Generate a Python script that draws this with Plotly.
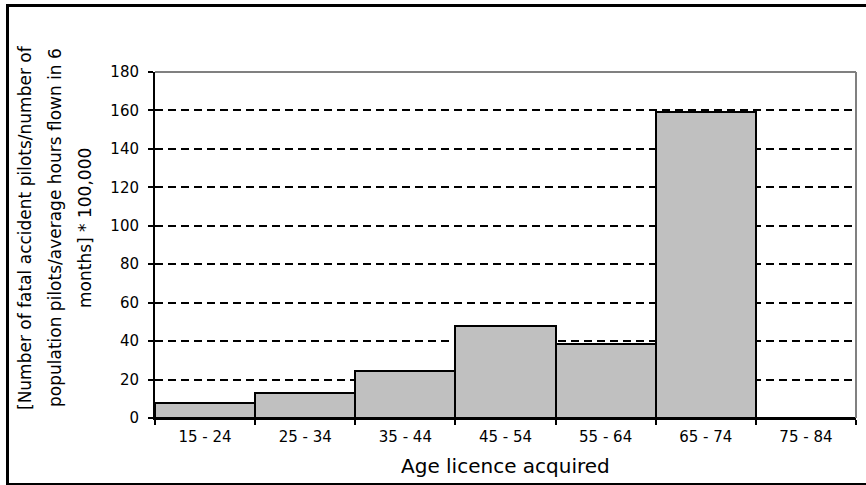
import plotly.graph_objects as go

categories = ["15 - 24", "25 - 34", "35 - 44", "45 - 54", "55 - 64", "65 - 74", "75 - 84"]
values = [8, 13, 24.5, 48, 38.3, 159, 0]
y_ticks = [0, 20, 40, 60, 80, 100, 120, 140, 160, 180]
y_title_lines = [
    "[Number of fatal accident pilots/number of",
    "population pilots/average hours flown in 6",
    "months] * 100,000",
]
x_title = "Age licence acquired"

W, H = 866, 485
ml, mr, mt, mb = 155, 10, 72, 67
pw, ph = W - ml - mr, H - mt - mb

def px(x):
    return (x - ml) / pw

def py(y):
    return (H - mb - y) / ph

fig = go.Figure()
fig.add_trace(go.Bar(
    x=categories, y=values, width=1,
    marker=dict(color="#C0C0C0", line=dict(color="black", width=2)),
))

font = "DejaVu Sans, Arial, sans-serif"
title_x = [25, 55, 85]
annotations = [
    dict(xref="paper", yref="paper", x=px(cx), y=py(228), textangle=-90,
         showarrow=False, xanchor="center", yanchor="middle",
         text=t, font=dict(size=17))
    for cx, t in zip(title_x, y_title_lines)
]
annotations.append(dict(xref="paper", yref="paper", x=px(505), y=py(466),
                        showarrow=False, xanchor="center", yanchor="middle",
                        text=x_title, font=dict(size=20)))

fig.update_layout(
    width=W, height=H,
    margin=dict(l=ml, r=mr, t=mt, b=mb),
    paper_bgcolor="white", plot_bgcolor="white",
    showlegend=False,
    bargap=0,
    font=dict(family=font, color="black", size=15),
    xaxis=dict(
        type="category", tickson="boundaries",
        showline=True, linecolor="black", linewidth=2,
        ticks="outside", ticklen=5, tickcolor="black", tickwidth=2,
        showgrid=False, tickfont=dict(size=15),
        ticklabelstandoff=4,
    ),
    yaxis=dict(
        range=[0, 180], tickvals=y_ticks,
        showline=True, linecolor="black", linewidth=2,
        ticks="outside", ticklen=5, tickcolor="black", tickwidth=2,
        showgrid=True, gridcolor="black", gridwidth=2, griddash="8px,5px",
        zeroline=False, tickfont=dict(size=15),
        ticklabelstandoff=6,
    ),
    shapes=[
        dict(type="line", xref="paper", yref="paper", x0=0, x1=1, y0=1, y1=1,
             line=dict(color="#808080", width=2), layer="above"),
        dict(type="line", xref="paper", yref="paper", x0=1, x1=1, y0=0, y1=1,
             line=dict(color="#808080", width=2), layer="above"),
        dict(type="rect", xref="paper", yref="paper",
             x0=px(7.5), x1=px(872), y0=py(5.5), y1=py(484.5),
             line=dict(color="black", width=3), layer="above"),
    ],
    annotations=annotations,
)

fig.write_html("out.html")
